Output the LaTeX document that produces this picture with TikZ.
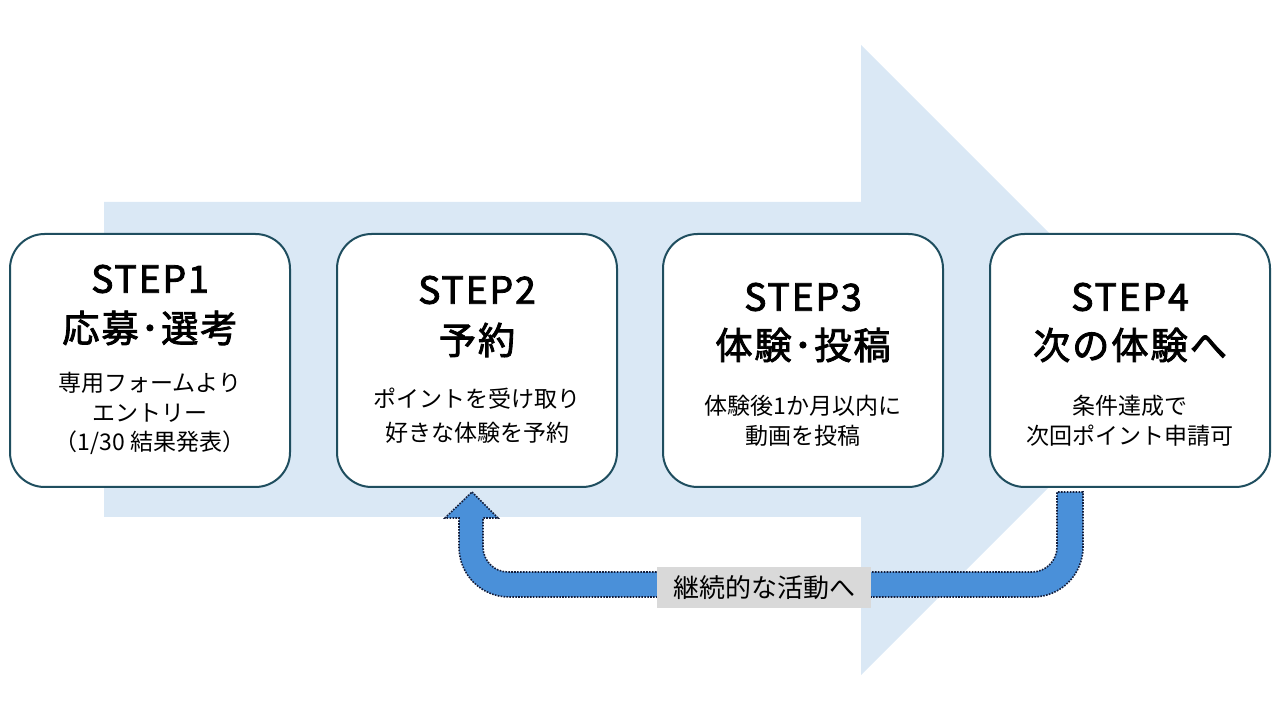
\documentclass[tikz,border=0pt]{standalone}
\usepackage{fontspec}
\setmainfont{Noto Sans CJK JP}
\newfontfamily\ttlfont[FakeBold=2.2,LetterSpace=5]{Noto Sans CJK JP}
\usetikzlibrary{calc}
\definecolor{bigarrow}{RGB}{218,232,245}
\definecolor{boxline}{RGB}{31,78,95}
\definecolor{ublue}{RGB}{74,144,217}
\definecolor{udot}{RGB}{20,30,60}
\definecolor{lblgray}{RGB}{217,217,217}
\begin{document}
\begin{tikzpicture}[x=0.75pt,y=0.75pt,
  stepbox/.style={draw=boxline, line width=1.5pt, fill=white, rounded corners=26pt,
    minimum width=210pt, minimum height=189.75pt, inner sep=0pt},
  ttl/.style={font=\ttlfont\fontsize{28}{30}\selectfont, inner sep=0pt},
  dsc/.style={font=\fontsize{17.25}{19}\selectfont, inner sep=0pt},
  lblbox/.style={fill=lblgray, minimum width=161pt, minimum height=30.75pt, inner sep=0pt,
    font=\fontsize{19.5}{21}\selectfont},
  uarrow/.style={fill=ublue, draw=udot, line width=1.2pt, dash pattern=on 1.2pt off 1pt}]
\useasboundingbox (0,0) rectangle (1280,720);
% big background arrow
\fill[bigarrow] (104,203) -- (104,518) -- (861,518) -- (861,675) -- (1176,360)
  -- (861,45) -- (861,203) -- cycle;
% step boxes
\node[stepbox] (s1) at (150,359.5) {};
\node[stepbox] (s2) at (477,359.5) {};
\node[stepbox] (s3) at (803,359.5) {};
\node[stepbox] (s4) at (1130,359.5) {};
% texts box 1
\node[ttl] (t1a) at (150,441) {STEP1};
\node[ttl] (t1b) at (150,392) {応募･選考};
\node[dsc] (d1a) at (150,337) {専用フォームより};
\node[dsc] (d1b) at (150,307) {エントリー};
\node[dsc] (d1c) at (150,277) {（1/30 結果発表）};
% box 2
\node[ttl] (t2a) at (477,430) {STEP2};
\node[ttl] (t2b) at (477,380) {予約};
\node[dsc] (d2a) at (477,321) {ポイントを受け取り};
\node[dsc] (d2b) at (477,287) {好きな体験を予約};
% box 3
\node[ttl] (t3a) at (803,423) {STEP3};
\node[ttl] (t3b) at (803,375) {体験･投稿};
\node[dsc] (d3a) at (803,314) {体験後1か月以内に};
\node[dsc] (d3b) at (803,284) {動画を投稿};
% box 4
\node[ttl] (t4a) at (1130,423) {STEP4};
\node[ttl] (t4b) at (1130,375) {次の体験へ};
\node[dsc] (d4a) at (1130,314) {条件達成で};
\node[dsc] (d4b) at (1130,284) {次回ポイント申請可};
% U-shaped return arrow from STEP4 to STEP2
\path[uarrow] (472,228) -- (498,202) -- (483,202) -- (483,173)
  arc[start angle=180, end angle=270, radius=18.75pt] -- (1032,148)
  arc[start angle=270, end angle=360, radius=18.75pt] -- (1057,228) -- (1083,228) -- (1083,173)
  arc[start angle=0, end angle=-90, radius=37.5pt] -- (509,123)
  arc[start angle=270, end angle=180, radius=37.5pt] -- (459,202) -- (445,202) -- cycle;
\node[lblbox] (lbl) at (764,132.5) {継続的な活動へ};
\end{tikzpicture}
\end{document}
